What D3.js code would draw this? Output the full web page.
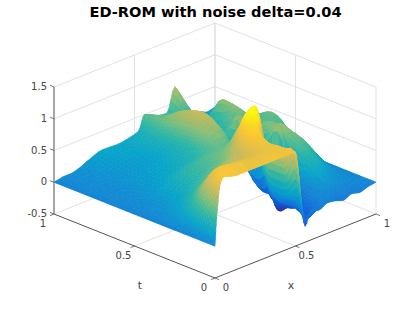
<!DOCTYPE html>
<html>
<head>
<meta charset="utf-8">
<script src="https://cdnjs.cloudflare.com/ajax/libs/d3/7.8.5/d3.min.js"></script>
<style>
html, body { margin: 0; padding: 0; background: #fff; }
text { font-family: "DejaVu Sans", sans-serif; }
</style>
</head>
<body>
<div id="chart"></div>
<script>
const title = "ED-ROM with noise delta=0.04";
const xTicks = [0, 0.5, 1];
const tTicks = [0, 0.5, 1];
const zTicks = [-0.5, 0, 0.5, 1, 1.5];

// grid of the surface
const xs = [0, .01, .03, .06, .1, .15, .2, .3, .4, .45, .5, .53, .56, .6, .65, .7, .75, .8, .85, .9, .95, 1];
const ts = [0, .02, .05, .1, .15, .2, .25, .3, .35, .4, .5, .6, .7, .8, .9, 1];
const zRows = [
  [0, .45, .92, 1.05, 1.0, .98, .98, .98, .98, .98, .98, .3, -.25, -.02, -.08, -.02, -.04, -.08, -.03, -.06, -.02, 0],
  [0, .30, .80, 1.0, 1.0, .98, .98, .98, .98, .98, .98, .75, 0, -.18, -.10, -.03, -.03, -.06, -.02, -.04, -.02, 0],
  [0, .2, .6, .95, 1.0, 1.0, .98, .97, .97, .97, .97, .9, .3, -.2, -.15, -.02, 0, -.03, 0, -.02, 0, 0],
  [0, .12, .38, .75, .95, 1.0, .98, .95, .95, .96, .97, .6, .15, 0, -.25, -.05, .06, .1, .06, .04, .02, 0],
  [0, .06, .22, .5, .8, .9, .9, .88, .9, .95, .95, .6, .1, -.02, -.2, -.15, .1, .18, .12, .06, .03, 0],
  [0, .04, .12, .3, .55, .72, .75, .78, .88, 1.0, 1.0, .6, .1, -.1, -.2, -.3, .02, .28, .25, .12, .05, 0],
  [0, .02, .08, .2, .35, .52, .6, .68, .8, .98, 1.1, 1.0, .5, 0, -.2, -.35, -.08, .35, .38, .25, .08, 0],
  [0, .01, .05, .12, .22, .35, .45, .58, .72, .88, 1.1, 1.22, 1.25, .35, -.15, -.45, -.15, .42, .5, .3, .1, 0],
  [0, .01, .03, .08, .15, .25, .33, .48, .58, .7, .95, 1.15, 1.22, 1.25, .7, -.25, -.35, .45, .55, .36, .18, .02],
  [0, .01, .02, .05, .1, .16, .24, .4, .5, .58, .65, .78, .95, 1.05, .35, -.25, -.1, .72, .6, .42, .3, .1],
  [0, .01, .02, .03, .05, .1, .2, .34, .44, .48, .5, .52, .5, .48, .3, 0, -.1, .45, .6, .45, .4, .15],
  [0, .01, .01, .02, .03, .08, .12, .2, .27, .33, .42, .55, .66, .7, .55, .3, .7, .5, .5, .5, .55, .3],
  [0, .01, .01, .02, .03, .05, .1, .16, .22, .27, .33, .5, .72, .8, .7, .4, .35, .5, .6, .45, .4, .25],
  [0, .01, .01, .02, .03, .05, .08, .12, .16, .22, .3, .48, .66, .72, .5, .4, .35, .3, .65, .4, .3, .2],
  [0, .01, .01, .02, .04, .06, .1, .16, .2, .24, .3, .42, .55, .55, .4, .4, .45, .3, .25, .2, .2, .15],
  [0, .005, .015, .03, .03, .06, .12, .21, .2, .22, .25, .3, .5, .45, .4, .38, .75, .4, .2, .2, .15, .18]
];

// parula stops
const parula = ["#352a87", "#0f5cdd", "#1481d6", "#06a4ca", "#2eb7a4", "#87bf77", "#d1bb59", "#fec832", "#f9fb0e"];
const zColorMin = -0.45, zColorMax = 1.25;

const width = 415, height = 312;

const across = d3.scaleLinear().domain([-1, 1]).range([54, 376]);   // x - t
const depth = d3.scaleLinear().domain([0, 2]).range([278, 150]);    // x + t
const rise = d3.scaleLinear().domain([-0.5, 1.5]).range([0, 127]);
const colorOf = d3.scaleLinear()
  .domain(d3.range(parula.length).map(i => zColorMin + (zColorMax - zColorMin) * i / (parula.length - 1)))
  .range(parula)
  .clamp(true);

const px = (x, t) => across(x - t);
const py = (x, t, z) => depth(x + t) - rise(z);

const svg = d3.select("#chart").append("svg")
  .attr("width", width)
  .attr("height", height)
  .style("display", "block");

const gridColor = "#e2e2e2";
const axisColor = "#555";
const textColor = "#444";

function seg(g, a, b, color, w) {
  g.append("line")
    .attr("x1", px(a[0], a[1])).attr("y1", py(a[0], a[1], a[2]))
    .attr("x2", px(b[0], b[1])).attr("y2", py(b[0], b[1], b[2]))
    .attr("stroke", color)
    .attr("stroke-width", w);
}

// back walls and floor grid
const grid = svg.append("g");
zTicks.forEach(z => {
  seg(grid, [0, 1, z], [1, 1, z], gridColor, 1);
  seg(grid, [1, 1, z], [1, 0, z], gridColor, 1);
});
seg(grid, [0.5, 1, -0.5], [0.5, 1, 1.5], gridColor, 1);
seg(grid, [1, 0.5, -0.5], [1, 0.5, 1.5], gridColor, 1);
seg(grid, [1, 1, -0.5], [1, 1, 1.5], "#cfcfcf", 1);
seg(grid, [1, 0, -0.5], [1, 0, 1.5], gridColor, 1);
seg(grid, [0.5, 0, -0.5], [0.5, 1, -0.5], gridColor, 1);
seg(grid, [0, 0.5, -0.5], [1, 0.5, -0.5], gridColor, 1);

// limited cubic through one line of grid values
function slope(v, i) {
  if (i === 0) return v[1] - v[0];
  if (i === v.length - 1) return v[i] - v[i - 1];
  const a = v[i] - v[i - 1], b = v[i + 1] - v[i];
  if (a * b <= 0) return 0;
  return (a + b) / 2;
}
function smooth(v, u) {
  const i = Math.min(Math.floor(u), v.length - 2), f = u - i;
  const m0 = slope(v, i), m1 = slope(v, i + 1);
  const f2 = f * f, f3 = f2 * f;
  return (2 * f3 - 3 * f2 + 1) * v[i] + (f3 - 2 * f2 + f) * m0 + (-2 * f3 + 3 * f2) * v[i + 1] + (f3 - f2) * m1;
}

const steps = 4;
const xAt = d3.scaleLinear().domain(d3.range(xs.length)).range(xs);
const tAt = d3.scaleLinear().domain(d3.range(ts.length)).range(ts);
const us = d3.range(0, (xs.length - 1) * steps + 1).map(d => d / steps);
const vs = d3.range(0, (ts.length - 1) * steps + 1).map(d => d / steps);
const columns = xs.map((_, j) => zRows.map(r => r[j]));

const fine = vs.map(v => {
  const row = columns.map(c => smooth(c, v));
  const t = tAt(v);
  return us.map(u => ({ x: xAt(u), t: t, z: smooth(row, u) }));
});

// painter's order, far corner first
const quads = [];
for (let r = fine.length - 2; r >= 0; r--) {
  for (let c = us.length - 2; c >= 0; c--) {
    quads.push([fine[r][c], fine[r][c + 1], fine[r + 1][c + 1], fine[r + 1][c]]);
  }
}

svg.append("g").selectAll("path")
  .data(quads)
  .join("path")
  .attr("d", q => "M" + q.map(p => px(p.x, p.t).toFixed(2) + "," + py(p.x, p.t, p.z).toFixed(2)).join("L") + "Z")
  .attr("fill", q => colorOf(d3.mean(q, p => p.z)))
  .attr("stroke", q => colorOf(d3.mean(q, p => p.z)))
  .attr("stroke-width", 0.6)
  .attr("stroke-linejoin", "round");

// front axes
const axes = svg.append("g");
seg(axes, [0, 0, -0.5], [0, 1, -0.5], axisColor, 1);
seg(axes, [0, 0, -0.5], [1, 0, -0.5], axisColor, 1);
seg(axes, [0, 1, -0.5], [0, 1, 1.5], "#808080", 1.4);

const tick = 0.025;
tTicks.forEach(t => seg(axes, [0, t, -0.5], [-tick, t, -0.5], axisColor, 0.8));
xTicks.forEach(x => seg(axes, [x, 0, -0.5], [x, -tick, -0.5], axisColor, 0.8));
zTicks.forEach(z => seg(axes, [0, 1, z], [0, 1 + tick, z], axisColor, 0.8));

const label = (s, x, y, anchor) => svg.append("text")
  .attr("x", x).attr("y", y)
  .attr("text-anchor", anchor || "middle")
  .attr("font-size", 10)
  .attr("fill", textColor)
  .text(s);

zTicks.forEach(z => label(String(z), px(0, 1) - 7, py(0, 1, z) + 3, "end"));
tTicks.forEach(t => label(String(t), px(0, t) - 11, depth(t) + 13));
xTicks.forEach(x => label(String(x), px(x, 0) + 11, depth(x) + 13));

label("t", 140, 289).attr("font-size", 11);
label("x", 291, 289).attr("font-size", 11);

svg.append("text")
  .attr("x", 215.5)
  .attr("y", 17)
  .attr("text-anchor", "middle")
  .attr("font-size", 14.6)
  .attr("font-weight", "bold")
  .attr("fill", "#000")
  .text(title);
</script>
</body>
</html>
